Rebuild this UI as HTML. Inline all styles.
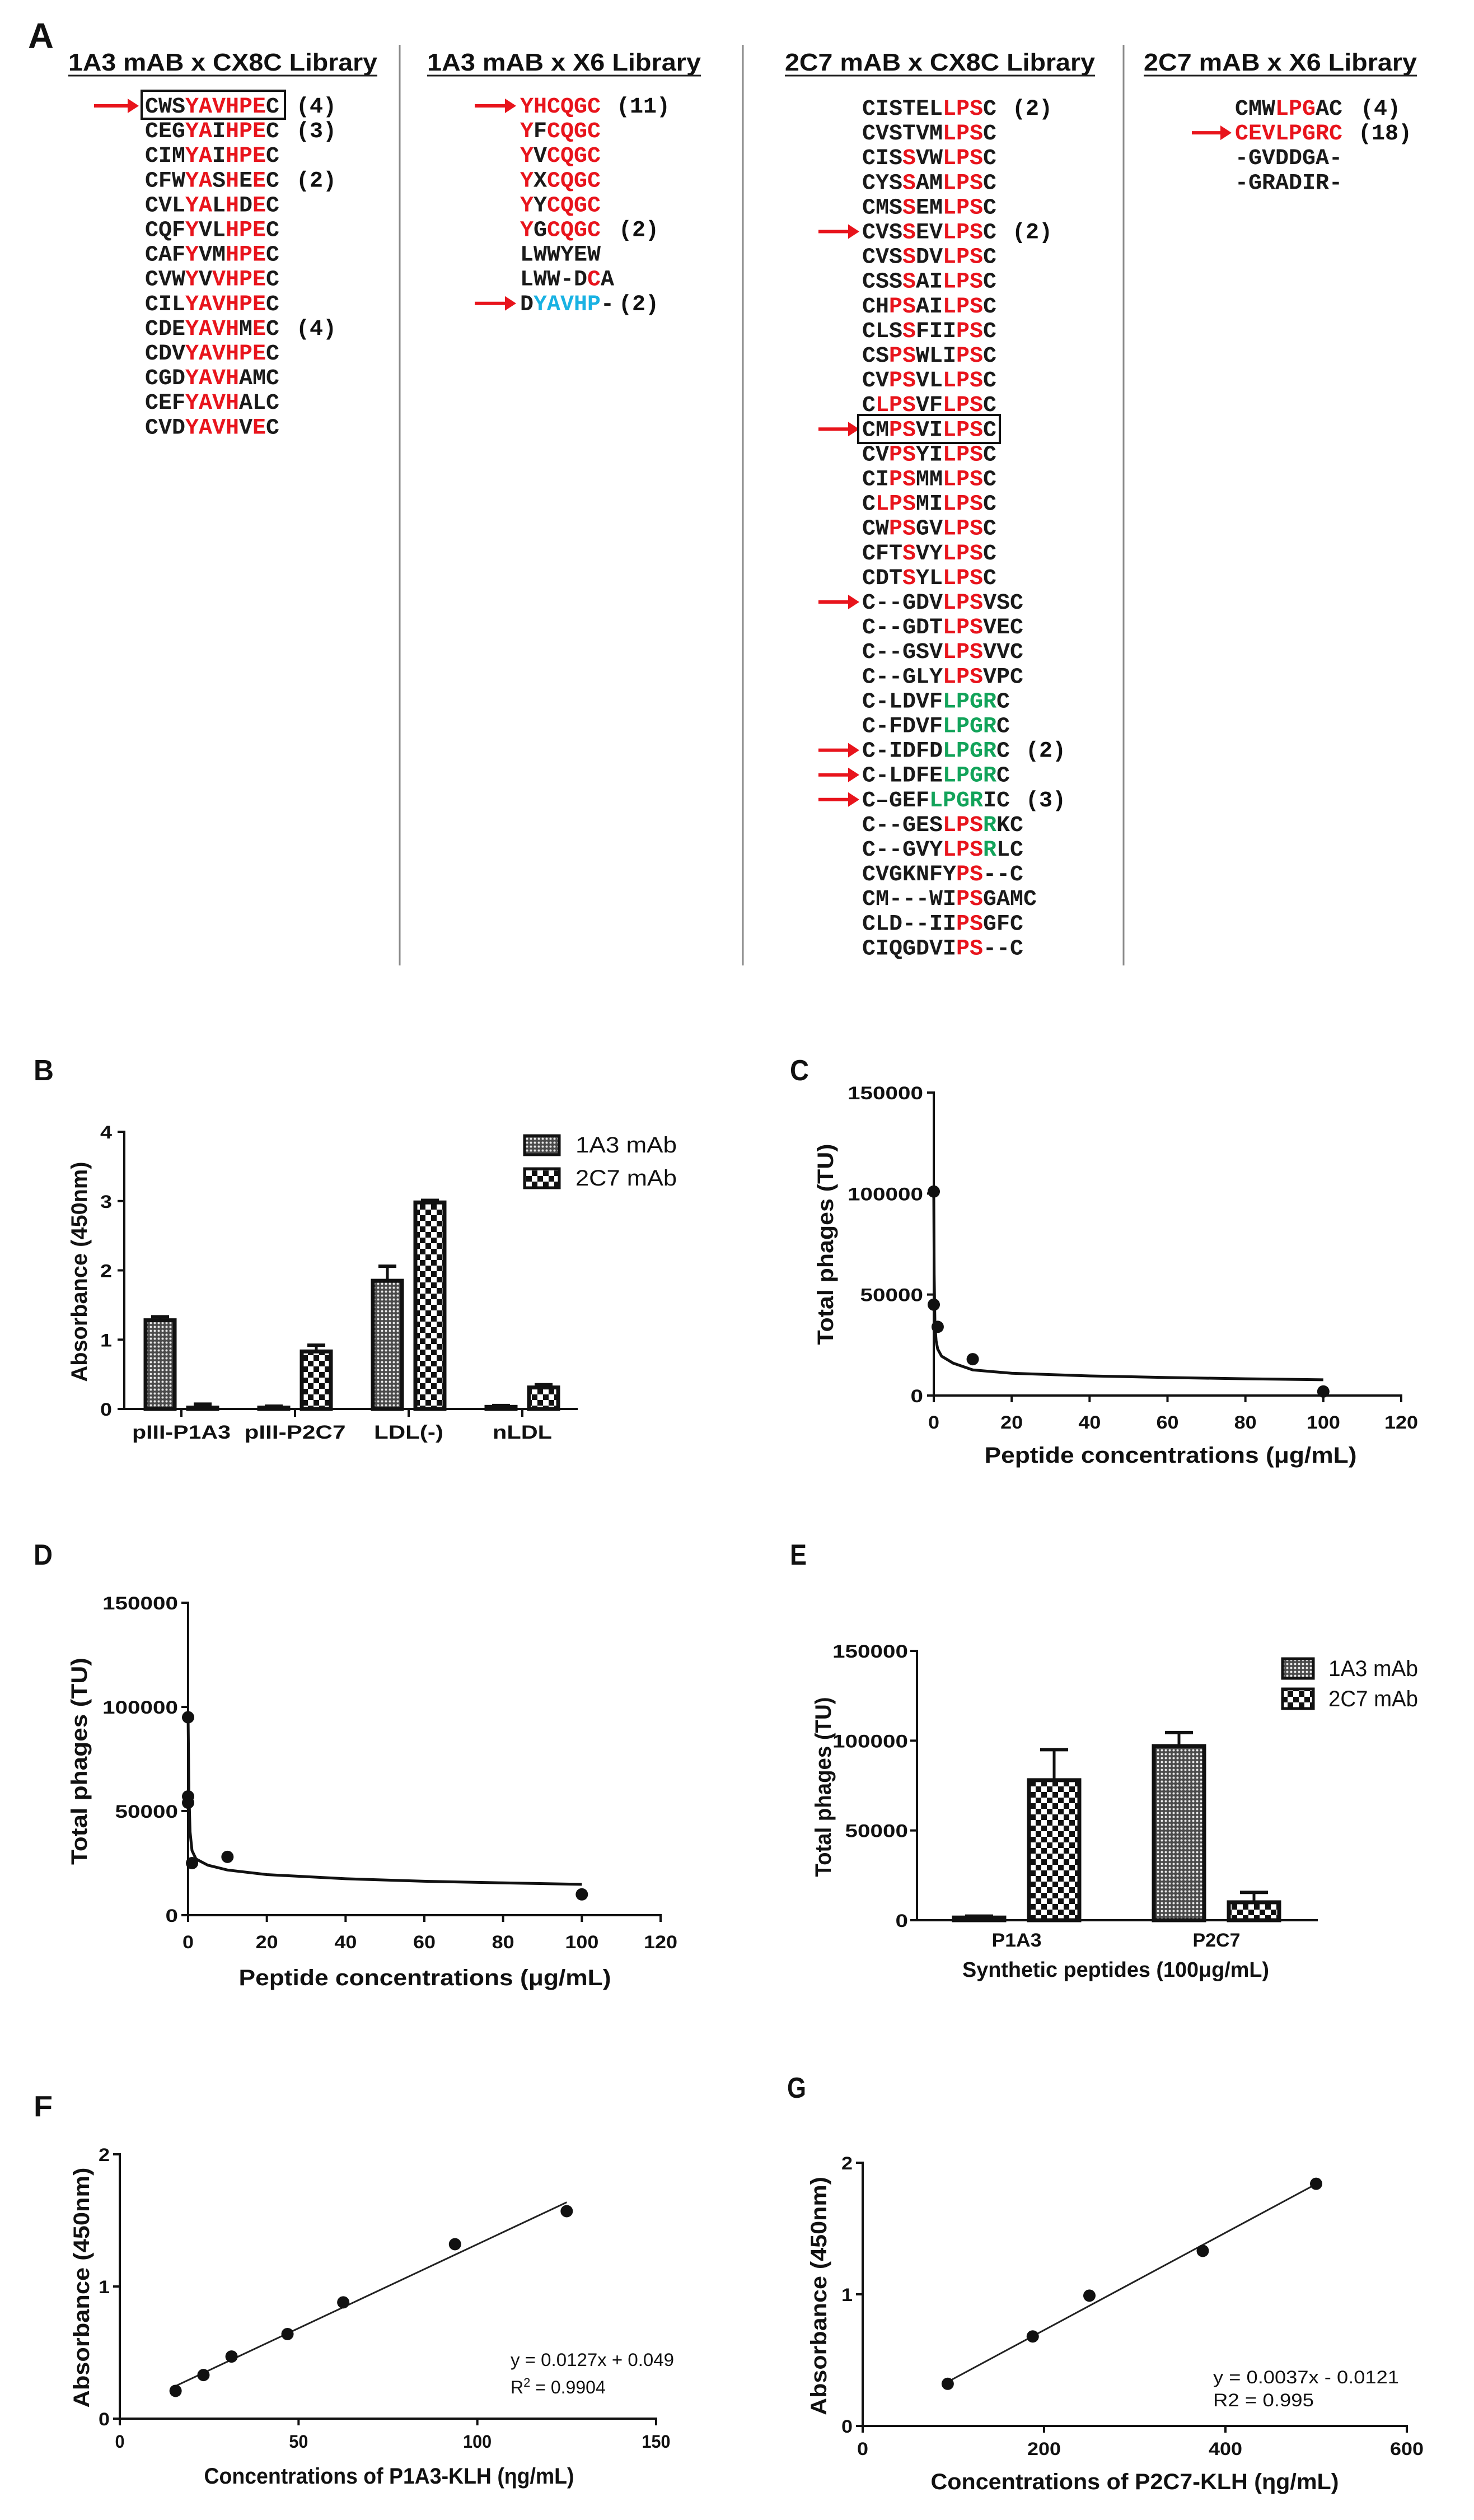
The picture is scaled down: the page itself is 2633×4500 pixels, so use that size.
<!DOCTYPE html>
<html><head><meta charset="utf-8"><title>Figure</title>
<style>
html,body{margin:0;padding:0;background:#fff;}
svg{display:block;}
</style></head>
<body>
<svg id="fig" xmlns="http://www.w3.org/2000/svg" width="2633" height="4500" viewBox="0 0 2633 4500">
<defs>
<pattern id="pat1A3" patternUnits="userSpaceOnUse" width="7" height="7">
<rect width="7" height="7" fill="#4a4a4a"/><circle cx="3.5" cy="3.5" r="2" fill="#e8e8e8"/>
</pattern>
<pattern id="pat2C7" patternUnits="userSpaceOnUse" width="20" height="20">
<rect width="20" height="20" fill="#fff"/><rect width="10" height="10" fill="#111"/><rect x="10" y="10" width="10" height="10" fill="#111"/>
</pattern>
</defs>
<rect x="0" y="0" width="2633" height="4500" fill="#fff"/>
</svg>
<script>
// ---------- Panel A data ----------
const col1Seq=['CWSYAVHPEC','CEGYAIHPEC','CIMYAIHPEC','CFWYASHEEC','CVLYALHDEC','CQFYVLHPEC','CAFYVMHPEC','CVWYVVHPEC','CILYAVHPEC','CDEYAVHMEC','CDVYAVHPEC','CGDYAVHAMC','CEFYAVHALC','CVDYAVHVEC'];
const col1Mask=['kkkrrrrrrk','kkkrrkrrrk','kkkrrkrrrk','kkkrrkrkrk','kkkrrkrkrk','kkkrkkrrrk','kkkrkkrrrk','kkkrkrrrrk','kkkrrrrrrk','kkkrrrrkrk','kkkrrrrrrk','kkkrrrrkkk','kkkrrrrkkk','kkkrrrrkrk'];
const col1Count=['(4)','(3)','','(2)','','','','','','(4)','','','',''];
const col1Arrow=[0];
const col2Seq=['YHCQGC','YFCQGC','YVCQGC','YXCQGC','YYCQGC','YGCQGC','LWWYEW','LWW-DCA','DYAVHP-'];
const col2Mask=['rrrrrr','rkrrrr','rkrrrr','rkrrrr','rkrrrr','rkrrrr','kkkkkk','kkkkkrk','kbbbbbk'];
const col2Count=['(11)','','','','','(2)','','','(2)'];
const col2Arrow=[0,8];
const col3Seq=['CISTELLPSC','CVSTVMLPSC','CISSVWLPSC','CYSSAMLPSC','CMSSEMLPSC','CVSSEVLPSC','CVSSDVLPSC','CSSSAILPSC','CHPSAILPSC','CLSSFIIPSC','CSPSWLIPSC','CVPSVLLPSC','CLPSVFLPSC','CMPSVILPSC','CVPSYILPSC','CIPSMMLPSC','CLPSMILPSC','CWPSGVLPSC','CFTSVYLPSC','CDTSYLLPSC','C--GDVLPSVSC','C--GDTLPSVEC','C--GSVLPSVVC','C--GLYLPSVPC','C-LDVFLPGRC','C-FDVFLPGRC','C-IDFDLPGRC','C-LDFELPGRC','C\u2013GEFLPGRIC','C--GESLPSRKC','C--GVYLPSRLC','CVGKNFYPS--C','CM---WIPSGAMC','CLD--IIPSGFC','CIQGDVIPS--C'];
const col3Mask=['kkkkkkrrrk','kkkkkkrrrk','kkkrkkrrrk','kkkrkkrrrk','kkkrkkrrrk','kkkrkkrrrk','kkkrkkrrrk','kkkrkkrrrk','kkrrkkrrrk','kkkrkkkrrk','kkrrkkkrrk','kkrrkkrrrk','krrrkkrrrk','kkrrkkrrrk','kkrrkkrrrk','kkrrkkrrrk','krrrkkrrrk','kkrrkkrrrk','kkkrkkrrrk','kkkrkkrrrk','kkkkkkrrrkkk','kkkkkkrrrkkk','kkkkkkrrrkkk','kkkkkkrrrkkk','kkkkkkggggk','kkkkkkggggk','kkkkkkggggk','kkkkkkggggk','kkkkkggggkk','kkkkkkrrrgkk','kkkkkkrrrgkk','kkkkkkkrrkkk','kkkkkkkrrkkkk','kkkkkkkrrkkk','kkkkkkkrrkkk'];
const col3Count={0:'(2)',5:'(2)',26:'(2)',28:'(3)'};
const col3Arrow=[5,13,20,26,27,28];
const col4Seq=['CMWLPGAC','CEVLPGRC','-GVDDGA-','-GRADIR-'];
const col4Mask=['kkkrrrkk','rrrrrrrr','kkkkkkkk','kkkkkkkk'];
const col4Count=['(4)','(18)','',''];
const col4Arrow=[1];

// ---------- Panel B data ----------
const bCategories=['pIII-P1A3','pIII-P2C7','LDL(-)','nLDL'];
const b1A3=[1.28,0.02,1.85,0.03];
const b1A3Err=[0.05,0.02,0.21,0.02];
const b2C7=[0.02,0.83,2.98,0.31];
const b2C7Err=[0.05,0.09,0.03,0.04];
const bTicks=[0,1,2,3,4];

// ---------- Panel C data ----------
const cX=[0,0,1,10,100];
const cY=[101000,45000,34000,18000,2000];
const cCurveX=[0,0.1,0.3,0.6,1,2,5,10,20,40,60,80,100];
const cCurveY=[100000,60000,35000,27000,23000,19500,16000,12700,11000,9700,8900,8300,7800];
const cYTicks=[0,50000,100000,150000];
const cXTicks=[0,20,40,60,80,100,120];

// ---------- Panel D data ----------
const dX=[0,0,0,1,10,100];
const dY=[95000,57000,54000,25000,28000,10000];
const dCurveX=[0,0.2,0.5,1,2,5,10,20,40,60,80,100];
const dCurveY=[95000,60000,40000,31000,27000,24000,21700,19500,17500,16300,15500,14800];
const dYTicks=[0,50000,100000,150000];
const dXTicks=[0,20,40,60,80,100,120];

// ---------- Panel E data ----------
const eCategories=['P1A3','P2C7'];
const e1A3=[1500,97000];
const e1A3Err=[800,7500];
const e2C7=[78000,10000];
const e2C7Err=[17000,5500];
const eTicks=[0,50000,100000,150000];

// ---------- Panel F data ----------
const fX=[15.6,23.4,31.25,46.9,62.5,93.75,125];
const fY=[0.21,0.33,0.47,0.64,0.88,1.32,1.57];
const fLineX=[15.6,125];
const fLineY=[0.247,1.637];
const fXTicks=[0,50,100,150];
const fYTicks=[0,1,2];

// ---------- Panel G data ----------
const gX=[93.75,187.5,250,375,500];
const gY=[0.32,0.68,0.99,1.33,1.84];
const gLineX=[93.75,500];
const gLineY=[0.335,1.838];
const gXTicks=[0,200,400,600];
const gYTicks=[0,1,2];

const NS='http://www.w3.org/2000/svg';
const svg=document.getElementById('fig');
const RED='#e8141c', GREEN='#12a35a', BLUE='#19b2e3';
const SANS='"Liberation Sans", Arial, sans-serif';
const MONO='"Liberation Mono", "Courier New", monospace';

function mk(parent, tag, attrs, name){
  const el=document.createElementNS(NS,tag);
  for(const k in attrs){ el.setAttribute(k, attrs[k]); }
  
  
  parent.appendChild(el);
  return el;
}
function txt(parent,x,y,s,opts,name){
  const a={x:x,y:y,'font-family':opts.family||SANS,'font-size':opts.size||32,'font-weight':opts.weight||'bold',fill:opts.fill||'#111','text-anchor':opts.anchor||'start'};
  if(opts.len){a.textLength=opts.len;a.lengthAdjust='spacingAndGlyphs';}
  if(opts.transform){a.transform=opts.transform;}
  const t=mk(parent,'text',a,name);
  t.textContent=s;
  return t;
}
function lin(d0,d1,r0,r1){return v=>r0+(v-d0)*(r1-r0)/(d1-d0);}

// ================= PANEL A =================
const gA=mk(svg,'g',{},'panel-a');
txt(gA,50,86,'A',{size:64,len:46},'panel-a-label');
const dividers=[714,1327,2007];
dividers.forEach((x,i)=>{
  mk(gA,'line',{x1:x,y1:80,x2:x,y2:1724,stroke:'#8a8a8a','stroke-width':3},'column-divider-'+(i+1));
});
const headers=[['1A3 mAB  x  CX8C Library',122,552],['1A3 mAB  x  X6 Library',763,489],['2C7 mAB  x  CX8C Library',1402,554],['2C7 mAB  x  X6 Library',2043,488]];
headers.forEach((h,i)=>{
  txt(gA,h[1],126,h[0],{size:44,len:h[2]},'column-header-'+(i+1));
  mk(gA,'line',{x1:h[1],y1:135,x2:h[1]+h[2],y2:135,stroke:'#222','stroke-width':3},'column-header-underline-'+(i+1));
});
const CW=24, ROWH=44.1;
function arrow(g,x1,x2,yc,name){
  const a=mk(g,'g',{},name);
  mk(a,'line',{x1:x1,y1:yc,x2:x2-14,y2:yc,stroke:RED,'stroke-width':6},'arrow-shaft');
  mk(a,'polygon',{points:(x2-20)+','+(yc-13)+' '+x2+','+yc+' '+(x2-20)+','+(yc+13),fill:RED},'arrow-head');
}
function seqColumn(g,seqs,masks,counts,arrows,sx,y0,countX,arrowX1,arrowX2,prefix,countXOverride){
  seqs.forEach((s,i)=>{
    const yc=y0+i*ROWH;
    const t=txt(g,sx,yc+12,'',{family:MONO,size:40,len:CW*s.length},prefix+'-sequence-'+(i+1));
    for(let j=0;j<s.length;j++){
      const c=masks[i][j];
      const col=c==='r'?RED:c==='g'?GREEN:c==='b'?BLUE:'#1a1a1a';
      const sp=document.createElementNS(NS,'tspan');
      sp.setAttribute('fill',col);
      sp.textContent=s[j];
      t.appendChild(sp);
    }
    const cnt=Array.isArray(counts)?counts[i]:(counts[i]||'');
    const cx=(countXOverride&&countXOverride[i])?countXOverride[i]:countX;
    if(cnt){ txt(g,cx+(cnt.length>3?-4:0),yc+12,cnt,{family:MONO,size:40,len:CW*cnt.length},prefix+'-count-'+(i+1)); }
    if(arrows.indexOf(i)>=0){ arrow(g,arrowX1,arrowX2,yc,prefix+'-arrow-'+(i+1)); }
  });
}
seqColumn(gA,col1Seq,col1Mask,col1Count,col1Arrow,259,189,529,168,248,'col1');
mk(gA,'rect',{x:253,y:162,width:256,height:50,fill:'none',stroke:'#111','stroke-width':4},'col1-highlight-box');
seqColumn(gA,col2Seq,col2Mask,col2Count,col2Arrow,929,189,1105,848,922,'col2');
seqColumn(gA,col3Seq,col3Mask,col3Count,col3Arrow,1540,193,1808,1462,1535,'col3',{26:1832,28:1832});
mk(gA,'rect',{x:1533,y:741,width:253,height:50,fill:'none',stroke:'#111','stroke-width':4},'col3-highlight-box');
seqColumn(gA,col4Seq,col4Mask,col4Count,col4Arrow,2206,193,2430,2129,2200,'col4');

// ================= Axis helpers =================
function yAxis(g,x,yTop,yBot,ticks,ys,labelRight,digitW,prefix){
  mk(g,'line',{x1:x,y1:yTop-2,x2:x,y2:yBot+2,stroke:'#111','stroke-width':4},prefix+'-y-axis');
  ticks.forEach(v=>{
    const y=ys(v);
    mk(g,'line',{x1:x-12,y1:y,x2:x,y2:y,stroke:'#111','stroke-width':4},prefix+'-y-tick');
    const s=String(v);
    txt(g,labelRight,y+12,s,{size:32,anchor:'end',len:digitW*s.length},prefix+'-y-tick-label');
  });
}
function xAxis(g,y,xL,xR,ticks,xs,labelY,digitW,prefix){
  mk(g,'line',{x1:xL-2,y1:y,x2:xR+2,y2:y,stroke:'#111','stroke-width':4},prefix+'-x-axis');
  ticks.forEach(v=>{
    const x=xs(v);
    mk(g,'line',{x1:x,y1:y,x2:x,y2:y+12,stroke:'#111','stroke-width':4},prefix+'-x-tick');
    const s=String(v);
    txt(g,x,labelY,s,{size:32,anchor:'middle',len:digitW*s.length},prefix+'-x-tick-label');
  });
}
function yTitle(g,cx,cy,s,len,prefix){
  txt(g,cx+14,cy,s,{size:40,anchor:'middle',len:len,transform:'rotate(-90 '+(cx+14)+' '+cy+')'},prefix+'-y-axis-title');
}
function bar(g,xc,w,y0,yv,fill,name){
  mk(g,'rect',{x:xc-w/2,y:Math.min(yv,y0),width:w,height:Math.abs(y0-yv),fill:fill,stroke:'#111','stroke-width':7},name);
}
function errBar(g,xc,yv,ye,cap,name){
  const e=mk(g,'g',{},name);
  mk(e,'line',{x1:xc,y1:yv,x2:xc,y2:ye,stroke:'#111','stroke-width':5},'error-stem');
  mk(e,'line',{x1:xc-cap/2,y1:ye,x2:xc+cap/2,y2:ye,stroke:'#111','stroke-width':6},'error-cap');
}
function legend(g,x,y1,y2,w,h,tx,tlen,prefix){
  mk(g,'rect',{x:x,y:y1,width:w,height:h,fill:'url(#pat1A3)',stroke:'#111','stroke-width':5},prefix+'-legend-swatch-1a3');
  txt(g,tx,y1+h-4,'1A3 mAb',{size:40,weight:'normal',len:tlen},prefix+'-legend-label-1a3');
  mk(g,'rect',{x:x,y:y2,width:w,height:h,fill:'url(#pat2C7)',stroke:'#111','stroke-width':5},prefix+'-legend-swatch-2c7');
  txt(g,tx,y2+h-4,'2C7 mAb',{size:40,weight:'normal',len:tlen},prefix+'-legend-label-2c7');
}

// ================= PANEL B =================
(function(){
  const g=mk(svg,'g',{},'panel-b');
  txt(g,60,1929,'B',{size:52,len:36},'panel-b-label');
  const ys=lin(0,4,2516,2021);
  const gx=i=>324+i*203;
  yAxis(g,222,2021,2516,bTicks,ys,200,21,'b');
  mk(g,'line',{x1:220,y1:2516,x2:1032,y2:2516,stroke:'#111','stroke-width':4},'b-x-axis');
  const catLens=[176,181,124,106];
  bCategories.forEach((c,i)=>{
    mk(g,'line',{x1:gx(i),y1:2516,x2:gx(i),y2:2530,stroke:'#111','stroke-width':4},'b-x-tick');
    txt(g,gx(i),2569,c,{size:34,anchor:'middle',len:catLens[i]},'b-category-label-'+(i+1));
  });
  bCategories.forEach((c,i)=>{
    const x1=gx(i)-38, x2=gx(i)+38;
    bar(g,x1,52,ys(0),ys(b1A3[i]),'url(#pat1A3)','b-bar-1a3-'+(i+1));
    errBar(g,x1,ys(b1A3[i]),ys(b1A3[i]+b1A3Err[i]),32,'b-error-1a3-'+(i+1));
    bar(g,x2,52,ys(0),ys(b2C7[i]),'url(#pat2C7)','b-bar-2c7-'+(i+1));
    errBar(g,x2,ys(b2C7[i]),ys(b2C7[i]+b2C7Err[i]),32,'b-error-2c7-'+(i+1));
  });
  yTitle(g,141,2271,'Absorbance (450nm)',393,'b');
  legend(g,937,2028,2087,62,34,1028,181,'b');
})();

// ================= PANEL C / D (curves) =================
function curvePanel(prefix,letter,lx,ly,ax,x120,y0,y150,xs_,ys_,cxs,cys,yT,xT,yLabelR,xLabelY,xtCx,xtY,ytCx,ytCy,ytLen){
  const g=mk(svg,'g',{},'panel-'+prefix);
  txt(g,lx,ly,letter,{size:52,len:34},'panel-'+prefix+'-label');
  const xs=lin(0,120,ax,x120), ys=lin(0,150000,y0,y150);
  yAxis(g,ax,y150,y0,yT,ys,yLabelR,22.5,prefix);
  xAxis(g,y0,ax,x120,xT,xs,xLabelY,20,prefix);
  let d='';
  cxs.forEach((v,i)=>{ d+=(i?'L':'M')+xs(v).toFixed(1)+','+ys(cys[i]).toFixed(1); });
  mk(g,'path',{d:d,fill:'none',stroke:'#111','stroke-width':5,'stroke-linejoin':'round'},prefix+'-fit-curve');
  xs_.forEach((v,i)=>{
    mk(g,'circle',{cx:xs(v),cy:ys(ys_[i]),r:11,fill:'#111'},prefix+'-point-'+(i+1));
  });
  txt(g,xtCx,xtY,'Peptide concentrations (\u03bcg/mL)',{size:40,anchor:'middle',len:665},prefix+'-x-axis-title');
  yTitle(g,ytCx,ytCy,'Total phages (TU)',ytLen,prefix);
}
curvePanel('c','C',1411,1929,1668,2503,2492,1951,cX,cY,cCurveX,cCurveY,cYTicks,cXTicks,1649,2551,2091,2612,1474,2222,359);
curvePanel('d','D',60,2794,336,1180,3420,2862,dX,dY,dCurveX,dCurveY,dYTicks,dXTicks,318,3479,759,3545,141,3145,370);

// ================= PANEL E =================
(function(){
  const g=mk(svg,'g',{},'panel-e');
  txt(g,1411,2794,'E',{size:52,len:30},'panel-e-label');
  const ys=lin(0,150000,3429,2948);
  const gx=i=>1816+i*357;
  yAxis(g,1638,2948,3429,eTicks,ys,1622,22.5,'e');
  mk(g,'line',{x1:1636,y1:3429,x2:2354,y2:3429,stroke:'#111','stroke-width':4},'e-x-axis');
  const catLens=[89,85];
  eCategories.forEach((c,i)=>{
    txt(g,gx(i),3476,c,{size:34,anchor:'middle',len:catLens[i]},'e-category-label-'+(i+1));
    const x1=gx(i)-67, x2=gx(i)+67;
    bar(g,x1,90,ys(0),ys(e1A3[i]),'url(#pat1A3)','e-bar-1a3-'+(i+1));
    errBar(g,x1,ys(e1A3[i]),ys(e1A3[i]+e1A3Err[i]),50,'e-error-1a3-'+(i+1));
    bar(g,x2,90,ys(0),ys(e2C7[i]),'url(#pat2C7)','e-bar-2c7-'+(i+1));
    errBar(g,x2,ys(e2C7[i]),ys(e2C7[i]+e2C7Err[i]),50,'e-error-2c7-'+(i+1));
  });
  txt(g,1993,3530,'Synthetic peptides (100\u03bcg/mL)',{size:38,anchor:'middle',len:548},'e-x-axis-title');
  yTitle(g,1470,3191,'Total phages (TU)',321,'e');
  legend(g,2291,2962,3016,55,35,2373,160,'e');
})();

// ================= PANEL F / G (linear) =================
function linPanel(prefix,letter,lx,ly,ax,xMax,xR,y0,y2,px,py,lx_,ly_,xT,yT,xDigitW,xLabelY,xTitle,xtCx,xtY,xtLen,ytCx,ytCy,ytLen,eq,eqX,eqY1,eqLen,r2,eqY2,r2Len,sup){
  const g=mk(svg,'g',{},'panel-'+prefix);
  txt(g,lx,ly,letter,{size:52,len:34},'panel-'+prefix+'-label');
  const xs=lin(0,xMax,ax,xR), ys=lin(0,2,y0,y2);
  yAxis(g,ax,y2,y0,yT,ys,ax-18,20,prefix);
  xAxis(g,y0,ax,xR,xT,xs,xLabelY,xDigitW,prefix);
  mk(g,'line',{x1:xs(lx_[0]),y1:ys(ly_[0]),x2:xs(lx_[1]),y2:ys(ly_[1]),stroke:'#222','stroke-width':3},prefix+'-regression-line');
  px.forEach((v,i)=>{
    mk(g,'circle',{cx:xs(v),cy:ys(py[i]),r:11,fill:'#111'},prefix+'-point-'+(i+1));
  });
  txt(g,eqX,eqY1,eq,{size:32,weight:'normal',len:eqLen},prefix+'-equation');
  if(sup){
    const t=txt(g,eqX,eqY2,'',{size:32,weight:'normal'},prefix+'-r-squared');
    const a=document.createElementNS(NS,'tspan'); a.textContent='R'; t.appendChild(a);
    const b=document.createElementNS(NS,'tspan'); b.setAttribute('font-size','22'); b.setAttribute('dy','-12'); b.textContent='2'; t.appendChild(b);
    const c=document.createElementNS(NS,'tspan'); c.setAttribute('dy','12'); c.textContent=' = 0.9904'; t.appendChild(c);
  } else {
    txt(g,eqX,eqY2,r2,{size:32,weight:'normal',len:r2Len},prefix+'-r-squared');
  }
  txt(g,xtCx,xtY,xTitle,{size:40,anchor:'middle',len:xtLen},prefix+'-x-axis-title');
  yTitle(g,ytCx,ytCy,'Absorbance (450nm)',ytLen,prefix);
}
linPanel('f','F',60,3779,214,150,1172,4319,3847,fX,fY,fLineX,fLineY,fXTicks,fYTicks,17,4371,'Concentrations of P1A3-KLH (\u03b7g/mL)',695,4435,661,145,4085,429,'y = 0.0127x + 0.049',912,4225,292,'R2 = 0.9904',4274,174,true);
linPanel('g','G',1406,3746,1541,600,2513,4332,3862,gX,gY,gLineX,gLineY,gXTicks,gYTicks,20,4384,'Concentrations of P2C7-KLH (\u03b7g/mL)',2027,4445,729,1462,4100,426,'y = 0.0037x - 0.0121',2167,4256,332,'R2 = 0.995',4297,180,false);
</script>
</body></html>
